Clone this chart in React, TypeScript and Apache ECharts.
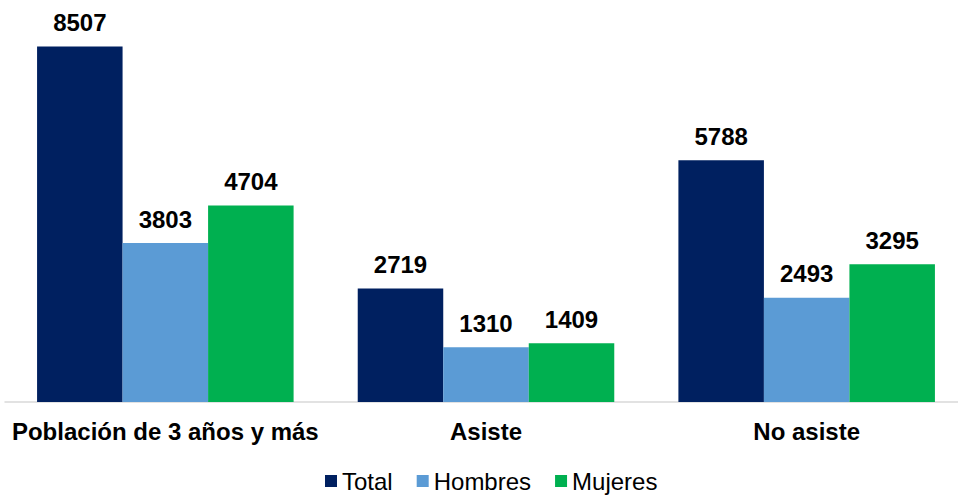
import React, { useEffect, useRef } from "react";
import * as echarts from "echarts";

const categories = ["Población de 3 años y más", "Asiste", "No asiste"];
const seriesNames = ["Total", "Hombres", "Mujeres"];
const totalValues = [8507, 2719, 5788];
const hombresValues = [3803, 1310, 2493];
const mujeresValues = [4704, 1409, 3295];
const colors = ["#002060", "#5B9BD5", "#00B050"];

export default function App() {
  const ref = useRef<HTMLDivElement>(null);
  useEffect(() => {
    if (!ref.current) return;
    const chart = echarts.init(ref.current, undefined, { renderer: "svg" });
    const data = [totalValues, hombresValues, mujeresValues];
    chart.setOption({
      animation: false,
      textStyle: { fontFamily: "Liberation Sans, Arial, sans-serif" },
      grid: { left: 5, top: 26, bottom: 94, width: 962, outerBoundsMode: "none", containLabel: false },
      legend: {
        bottom: 3,
        left: 325,
        padding: 0,
        itemWidth: 12,
        itemHeight: 12,
        itemGap: 24,
        icon: "rect",
        textStyle: { fontSize: 24, color: "#000" },
        data: seriesNames,
      },
      xAxis: {
        type: "category",
        data: categories,
        axisLine: { lineStyle: { color: "#d9d9d9", width: 1.5 } },
        axisTick: { show: false },
        axisLabel: { fontSize: 24, fontWeight: "bold", color: "#000", margin: 17, interval: 0 },
      },
      yAxis: {
        type: "value",
        min: 0,
        max: 9000,
        show: false,
        splitLine: { show: false },
      },
      series: seriesNames.map((name, i) => ({
        name,
        type: "bar",
        data: data[i],
        barGap: "0%",
        barCategoryGap: "20%",
        itemStyle: { color: colors[i] },
        label: {
          show: true,
          position: "top",
          distance: 12,
          fontSize: 24,
          fontWeight: "bold",
          color: "#000",
        },
      })),
    });
    return () => chart.dispose();
  }, []);
  return (
    <div
      ref={ref}
      style={{ position: "absolute", left: 0, top: 0, width: 958, height: 496 }}
    />
  );
}
